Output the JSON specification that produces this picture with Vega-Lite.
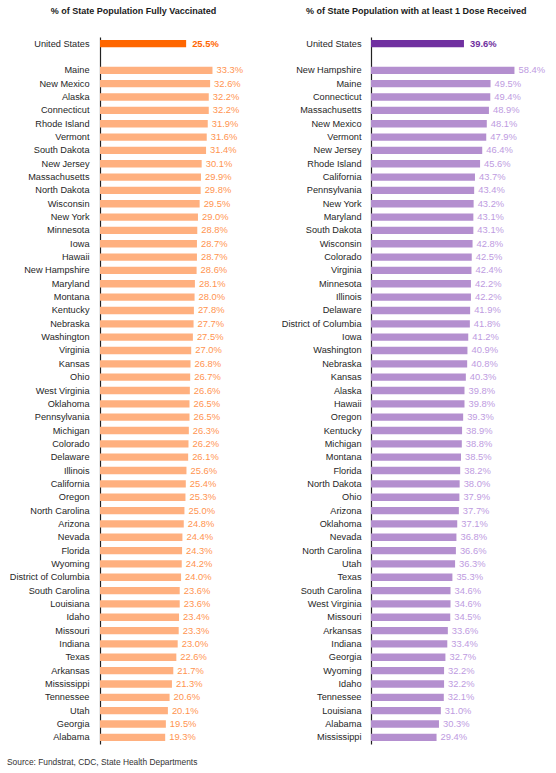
{
  "$schema": "https://vega.github.io/schema/vega-lite/v6.json",
  "padding": {"left": 5, "top": 7, "right": 5, "bottom": 5},
  "background": "white",
  "title": {"text": "Source: Fundstrat, CDC, State Health Departments", "orient": "bottom", "anchor": "start", "frame": "bounds", "fontSize": 8.4, "fontWeight": "normal", "color": "#333333", "font": "Liberation Sans", "offset": 14, "dx": 2},
  "config": {
    "view": {"stroke": null},
    "font": "Liberation Sans",
    "axis": {"labelFont": "Liberation Sans"}
  },
  "datasets": {
    "full": [
      {"state": "United States", "pct": 0.255, "kind": "US"},
      {"state": "Maine", "pct": 0.333, "kind": "State"},
      {"state": "New Mexico", "pct": 0.326, "kind": "State"},
      {"state": "Alaska", "pct": 0.322, "kind": "State"},
      {"state": "Connecticut", "pct": 0.322, "kind": "State"},
      {"state": "Rhode Island", "pct": 0.319, "kind": "State"},
      {"state": "Vermont", "pct": 0.316, "kind": "State"},
      {"state": "South Dakota", "pct": 0.314, "kind": "State"},
      {"state": "New Jersey", "pct": 0.301, "kind": "State"},
      {"state": "Massachusetts", "pct": 0.299, "kind": "State"},
      {"state": "North Dakota", "pct": 0.298, "kind": "State"},
      {"state": "Wisconsin", "pct": 0.295, "kind": "State"},
      {"state": "New York", "pct": 0.290, "kind": "State"},
      {"state": "Minnesota", "pct": 0.288, "kind": "State"},
      {"state": "Iowa", "pct": 0.287, "kind": "State"},
      {"state": "Hawaii", "pct": 0.287, "kind": "State"},
      {"state": "New Hampshire", "pct": 0.286, "kind": "State"},
      {"state": "Maryland", "pct": 0.281, "kind": "State"},
      {"state": "Montana", "pct": 0.280, "kind": "State"},
      {"state": "Kentucky", "pct": 0.278, "kind": "State"},
      {"state": "Nebraska", "pct": 0.277, "kind": "State"},
      {"state": "Washington", "pct": 0.275, "kind": "State"},
      {"state": "Virginia", "pct": 0.270, "kind": "State"},
      {"state": "Kansas", "pct": 0.268, "kind": "State"},
      {"state": "Ohio", "pct": 0.267, "kind": "State"},
      {"state": "West Virginia", "pct": 0.266, "kind": "State"},
      {"state": "Oklahoma", "pct": 0.265, "kind": "State"},
      {"state": "Pennsylvania", "pct": 0.265, "kind": "State"},
      {"state": "Michigan", "pct": 0.263, "kind": "State"},
      {"state": "Colorado", "pct": 0.262, "kind": "State"},
      {"state": "Delaware", "pct": 0.261, "kind": "State"},
      {"state": "Illinois", "pct": 0.256, "kind": "State"},
      {"state": "California", "pct": 0.254, "kind": "State"},
      {"state": "Oregon", "pct": 0.253, "kind": "State"},
      {"state": "North Carolina", "pct": 0.250, "kind": "State"},
      {"state": "Arizona", "pct": 0.248, "kind": "State"},
      {"state": "Nevada", "pct": 0.244, "kind": "State"},
      {"state": "Florida", "pct": 0.243, "kind": "State"},
      {"state": "Wyoming", "pct": 0.242, "kind": "State"},
      {"state": "District of Columbia", "pct": 0.240, "kind": "State"},
      {"state": "South Carolina", "pct": 0.236, "kind": "State"},
      {"state": "Louisiana", "pct": 0.236, "kind": "State"},
      {"state": "Idaho", "pct": 0.234, "kind": "State"},
      {"state": "Missouri", "pct": 0.233, "kind": "State"},
      {"state": "Indiana", "pct": 0.230, "kind": "State"},
      {"state": "Texas", "pct": 0.226, "kind": "State"},
      {"state": "Arkansas", "pct": 0.217, "kind": "State"},
      {"state": "Mississippi", "pct": 0.213, "kind": "State"},
      {"state": "Tennessee", "pct": 0.206, "kind": "State"},
      {"state": "Utah", "pct": 0.201, "kind": "State"},
      {"state": "Georgia", "pct": 0.195, "kind": "State"},
      {"state": "Alabama", "pct": 0.193, "kind": "State"}
    ],
    "dose": [
      {"state": "United States", "pct": 0.396, "kind": "US"},
      {"state": "New Hampshire", "pct": 0.584, "kind": "State"},
      {"state": "Maine", "pct": 0.495, "kind": "State"},
      {"state": "Connecticut", "pct": 0.494, "kind": "State"},
      {"state": "Massachusetts", "pct": 0.489, "kind": "State"},
      {"state": "New Mexico", "pct": 0.481, "kind": "State"},
      {"state": "Vermont", "pct": 0.479, "kind": "State"},
      {"state": "New Jersey", "pct": 0.464, "kind": "State"},
      {"state": "Rhode Island", "pct": 0.456, "kind": "State"},
      {"state": "California", "pct": 0.437, "kind": "State"},
      {"state": "Pennsylvania", "pct": 0.434, "kind": "State"},
      {"state": "New York", "pct": 0.432, "kind": "State"},
      {"state": "Maryland", "pct": 0.431, "kind": "State"},
      {"state": "South Dakota", "pct": 0.431, "kind": "State"},
      {"state": "Wisconsin", "pct": 0.428, "kind": "State"},
      {"state": "Colorado", "pct": 0.425, "kind": "State"},
      {"state": "Virginia", "pct": 0.424, "kind": "State"},
      {"state": "Minnesota", "pct": 0.422, "kind": "State"},
      {"state": "Illinois", "pct": 0.422, "kind": "State"},
      {"state": "Delaware", "pct": 0.419, "kind": "State"},
      {"state": "District of Columbia", "pct": 0.418, "kind": "State"},
      {"state": "Iowa", "pct": 0.412, "kind": "State"},
      {"state": "Washington", "pct": 0.409, "kind": "State"},
      {"state": "Nebraska", "pct": 0.408, "kind": "State"},
      {"state": "Kansas", "pct": 0.403, "kind": "State"},
      {"state": "Alaska", "pct": 0.398, "kind": "State"},
      {"state": "Hawaii", "pct": 0.398, "kind": "State"},
      {"state": "Oregon", "pct": 0.393, "kind": "State"},
      {"state": "Kentucky", "pct": 0.389, "kind": "State"},
      {"state": "Michigan", "pct": 0.388, "kind": "State"},
      {"state": "Montana", "pct": 0.385, "kind": "State"},
      {"state": "Florida", "pct": 0.382, "kind": "State"},
      {"state": "North Dakota", "pct": 0.380, "kind": "State"},
      {"state": "Ohio", "pct": 0.379, "kind": "State"},
      {"state": "Arizona", "pct": 0.377, "kind": "State"},
      {"state": "Oklahoma", "pct": 0.371, "kind": "State"},
      {"state": "Nevada", "pct": 0.368, "kind": "State"},
      {"state": "North Carolina", "pct": 0.366, "kind": "State"},
      {"state": "Utah", "pct": 0.363, "kind": "State"},
      {"state": "Texas", "pct": 0.353, "kind": "State"},
      {"state": "South Carolina", "pct": 0.346, "kind": "State"},
      {"state": "West Virginia", "pct": 0.346, "kind": "State"},
      {"state": "Missouri", "pct": 0.345, "kind": "State"},
      {"state": "Arkansas", "pct": 0.336, "kind": "State"},
      {"state": "Indiana", "pct": 0.334, "kind": "State"},
      {"state": "Georgia", "pct": 0.327, "kind": "State"},
      {"state": "Wyoming", "pct": 0.322, "kind": "State"},
      {"state": "Idaho", "pct": 0.322, "kind": "State"},
      {"state": "Tennessee", "pct": 0.321, "kind": "State"},
      {"state": "Louisiana", "pct": 0.310, "kind": "State"},
      {"state": "Alabama", "pct": 0.303, "kind": "State"},
      {"state": "Mississippi", "pct": 0.294, "kind": "State"}
    ]
  },
  "hconcat": [
    {
      "data": {"name": "full"},
      "width": 152,
      "height": 707,
      "title": {"text": "% of State Population Fully Vaccinated", "fontSize": 9, "fontWeight": "bold", "color": "#1a1a1a", "anchor": "middle", "frame": "bounds", "offset": 21, "dx": 5},
      "encoding": {
        "y": {
          "field": "state", "type": "nominal",
          "scale": {"domain": ["United States", " ", "Maine", "New Mexico", "Alaska", "Connecticut", "Rhode Island", "Vermont", "South Dakota", "New Jersey", "Massachusetts", "North Dakota", "Wisconsin", "New York", "Minnesota", "Iowa", "Hawaii", "New Hampshire", "Maryland", "Montana", "Kentucky", "Nebraska", "Washington", "Virginia", "Kansas", "Ohio", "West Virginia", "Oklahoma", "Pennsylvania", "Michigan", "Colorado", "Delaware", "Illinois", "California", "Oregon", "North Carolina", "Arizona", "Nevada", "Florida", "Wyoming", "District of Columbia", "South Carolina", "Louisiana", "Idaho", "Missouri", "Indiana", "Texas", "Arkansas", "Mississippi", "Tennessee", "Utah", "Georgia", "Alabama"], "paddingInner": 0.45, "paddingOuter": 0.225},
          "axis": {"title": null, "ticks": false, "grid": false, "domainColor": "#222222", "domainWidth": 1.2, "labelColor": "#262626", "labelFontSize": 9.2, "labelPadding": 11, "minExtent": 95, "maxExtent": 95}
        },
        "x": {"field": "pct", "type": "quantitative", "scale": {"domain": [0, 0.45]}, "axis": null}
      },
      "layer": [
        {
          "mark": {"type": "bar"},
          "encoding": {
            "color": {"field": "kind", "type": "nominal", "scale": {"domain": ["US", "State"], "range": ["#FF6600", "#FFB07F"]}, "legend": null}
          }
        },
        {
          "transform": [{"filter": "datum.kind == 'State'"}],
          "mark": {"type": "text", "align": "left", "dx": 4, "fontSize": 9.4, "color": "#FF9450"},
          "encoding": {"text": {"field": "pct", "type": "quantitative", "format": ".1%"}}
        },
        {
          "transform": [{"filter": "datum.kind == 'US'"}],
          "mark": {"type": "text", "align": "left", "dx": 6, "fontSize": 9.4, "fontWeight": "bold", "color": "#FF6600"},
          "encoding": {"text": {"field": "pct", "type": "quantitative", "format": ".1%"}}
        }
      ]
    },
    {
      "data": {"name": "dose"},
      "width": 180,
      "height": 707,
      "title": {"text": "% of State Population with at least 1 Dose Received", "fontSize": 9, "fontWeight": "bold", "color": "#1a1a1a", "anchor": "middle", "frame": "bounds", "offset": 21},
      "encoding": {
        "y": {
          "field": "state", "type": "nominal",
          "scale": {"domain": ["United States", " ", "New Hampshire", "Maine", "Connecticut", "Massachusetts", "New Mexico", "Vermont", "New Jersey", "Rhode Island", "California", "Pennsylvania", "New York", "Maryland", "South Dakota", "Wisconsin", "Colorado", "Virginia", "Minnesota", "Illinois", "Delaware", "District of Columbia", "Iowa", "Washington", "Nebraska", "Kansas", "Alaska", "Hawaii", "Oregon", "Kentucky", "Michigan", "Montana", "Florida", "North Dakota", "Ohio", "Arizona", "Oklahoma", "Nevada", "North Carolina", "Utah", "Texas", "South Carolina", "West Virginia", "Missouri", "Arkansas", "Indiana", "Georgia", "Wyoming", "Idaho", "Tennessee", "Louisiana", "Alabama", "Mississippi"], "paddingInner": 0.45, "paddingOuter": 0.225},
          "axis": {"title": null, "ticks": false, "grid": false, "domainColor": "#222222", "domainWidth": 1.2, "labelColor": "#262626", "labelFontSize": 9.2, "labelPadding": 10, "minExtent": 88, "maxExtent": 88}
        },
        "x": {"field": "pct", "type": "quantitative", "scale": {"domain": [0.05, 0.72], "zero": false}, "axis": null}
      },
      "layer": [
        {
          "mark": {"type": "bar", "clip": true},
          "encoding": {
            "color": {"field": "kind", "type": "nominal", "scale": {"domain": ["US", "State"], "range": ["#7030A0", "#B48FCF"]}, "legend": null}
          }
        },
        {
          "transform": [{"filter": "datum.kind == 'State'"}],
          "mark": {"type": "text", "align": "left", "dx": 4, "fontSize": 9.4, "color": "#BE9BDF"},
          "encoding": {"text": {"field": "pct", "type": "quantitative", "format": ".1%"}}
        },
        {
          "transform": [{"filter": "datum.kind == 'US'"}],
          "mark": {"type": "text", "align": "left", "dx": 6, "fontSize": 9.4, "fontWeight": "bold", "color": "#7030A0"},
          "encoding": {"text": {"field": "pct", "type": "quantitative", "format": ".1%"}}
        }
      ]
    }
  ],
  "spacing": 29,
  "resolve": {"scale": {"color": "independent", "x": "independent", "y": "independent"}}
}
